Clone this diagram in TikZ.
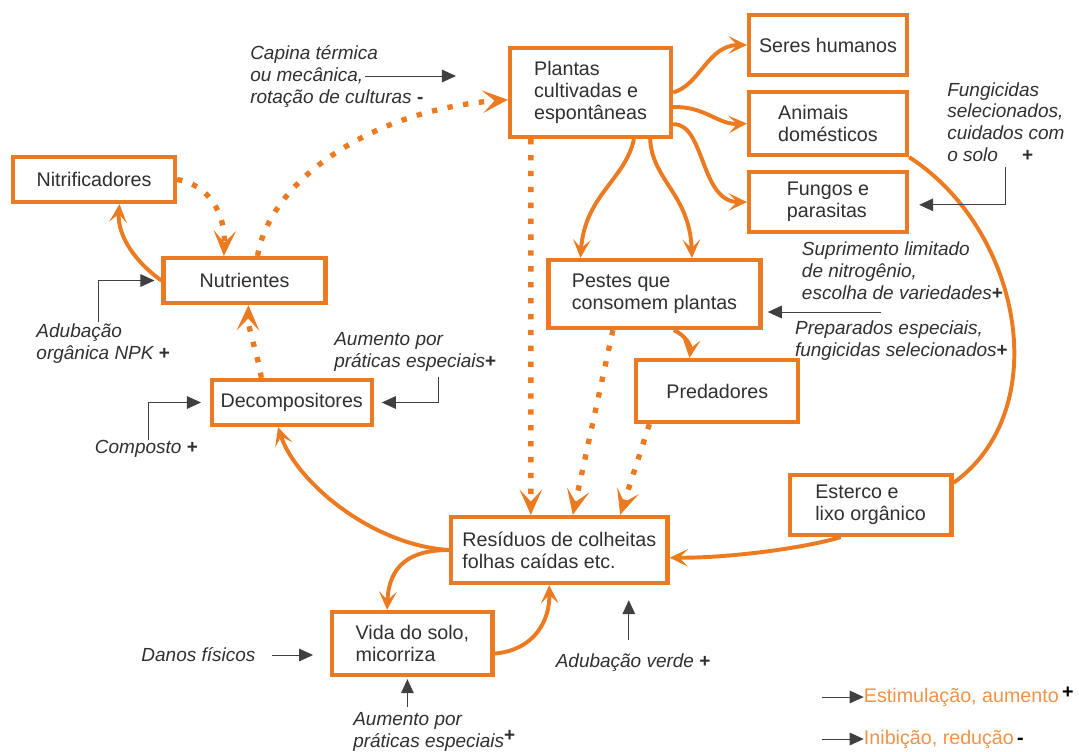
\documentclass[tikz,border=0pt]{standalone}
\usepackage{fontspec}
\setmainfont{Liberation Sans}
\usepackage{xcolor}
\definecolor{laranja}{RGB}{236,122,32}
\definecolor{legenda}{RGB}{241,146,72}
\definecolor{texto}{RGB}{48,48,48}
\usepackage{tikz}
\usetikzlibrary{arrows.meta}
\newcommand\mais{{\upshape\bfseries +}}
\newcommand\menos{{\upshape\bfseries -}}

\begin{document}
\begin{tikzpicture}[x=0.025cm,y=-0.025cm,
  caixa/.style={draw=laranja,line width=3pt,fill=white,align=left,inner sep=0pt,
    text=texto,font=\fontsize{14}{15.6}\selectfont},
  nota/.style={anchor=base west,align=left,inner sep=0pt,text=texto,
    font=\itshape\fontsize{13.5}{15.4}\selectfont},
  fluxo/.style={draw=laranja,line width=2.8pt,-{Stealth[length=13pt,width=12.5pt,inset=6pt]}},
  pontilhado/.style={draw=laranja,line width=3.8pt,dash pattern=on 3.8pt off 7.5pt,
    -{Stealth[length=18pt,width=16pt,inset=8.5pt]}},
  controle/.style={draw=black!75,line width=0.7pt,-{Triangle[length=10pt,width=9pt]}}]
\useasboundingbox (0,0) rectangle (1079,751);

% caixas
\node[caixa,minimum width=4.025cm,minimum height=2.225cm] (plantas) at (590.5,92.5) {Plantas\\cultivadas e\\espontâneas};
\node[caixa,minimum width=3.95cm,minimum height=1.5cm] (seres) at (828,45) {Seres humanos};
\node[caixa,minimum width=3.95cm,minimum height=1.575cm] (animais) at (828,123.5) {Animais\\domésticos};
\node[caixa,minimum width=3.95cm,minimum height=1.5cm] (fungos) at (828,202) {Fungos e\\parasitas};
\node[caixa,minimum width=4.05cm,minimum height=1.125cm] (nitrif) at (94,179.5) {Nitrificadores};
\node[caixa,minimum width=4.045cm,minimum height=1.125cm] (nutrientes) at (244.5,280.5) {Nutrientes};
\node[caixa,minimum width=4cm,minimum height=1.125cm] (decomp) at (291.7,402.5) {Decompositores};
\node[caixa,minimum width=5.295cm,minimum height=1.7cm] (pestes) at (654.5,294) {Pestes que\\consomem plantas};
\node[caixa,minimum width=4.05cm,minimum height=1.55cm] (predadores) at (717.3,391) {Predadores};
\node[caixa,minimum width=4.045cm,minimum height=1.5cm] (esterco) at (870.6,505) {Esterco e\\lixo orgânico};
\node[caixa,minimum width=5.41cm,minimum height=1.65cm] (residuos) at (559.3,550) {Resíduos de colheitas\\folhas caídas etc.};
\node[caixa,minimum width=4cm,minimum height=1.575cm] (vida) at (412.4,643.5) {Vida do solo,\\micorriza};

% fluxos cheios
\draw[fluxo] (plantas.east) .. controls (700,85) and (708,45) .. (seres.west);
\draw[fluxo] (plantas.-10) .. controls (705,106) and (718,125) .. (animais.west);
\draw[fluxo] (plantas.-21) .. controls (705,123) and (700,202) .. (fungos.west);
\draw[fluxo] (plantas.-47.5) .. controls (625,180) and (585,195) .. (pestes.154);
\draw[fluxo] (plantas.-38) .. controls (652,180) and (690,195) .. (pestes.44);
\draw[fluxo] (pestes.-62) .. controls (685,335) and (691,345) .. (predadores.130);
\draw[draw=laranja,line width=2.8pt] (animais.south east) .. controls (1022,230) and (1055,410) .. (esterco.15);
\draw[fluxo] (esterco.-133) .. controls (805,548) and (730,558) .. (residuos.-4);
\draw[fluxo] (residuos.west) .. controls (370,545) and (295,480) .. (decomp.-119);
\draw[fluxo] (residuos.west) .. controls (410,550) and (389,565) .. (vida.127);
\draw[fluxo] (vida.-7) .. controls (535,650) and (550,620) .. (residuos.-106);
\draw[fluxo] (nutrientes.west) .. controls (135,262) and (117,235) .. (nitrif.-44);

% fluxos pontilhados
\draw[pontilhado] (nitrif.east) .. controls (210,185) and (225.5,215) .. (nutrientes.130);
\draw[pontilhado] (nutrientes.62) .. controls (270,180) and (372,110) .. (plantas.185);
\draw[pontilhado] (decomp.141) .. controls (258,355) and (248,330) .. (nutrientes.-81);
\draw[pontilhado] (plantas.-142) -- (residuos.129);
\draw[pontilhado] (pestes.-139) -- (residuos.69);
\draw[pontilhado] (predadores.-154) -- (residuos.30);

% notas
\node[nota] (capina) at (250,103) {Capina térmica\\ou mecânica,\\rotação de culturas \menos};
\node[nota] (fungic) at (947,161) {Fungicidas\\selecionados,\\cuidados com\\o solo\quad\ \mais};
\node[nota] (supr) at (801.7,299) {Suprimento limitado\\de nitrogênio,\\escolha de variedades\mais};
\node[nota] (prep) at (794.8,356) {Preparados especiais,\\fungicidas selecionados\mais};
\node[nota] (npk) at (36.2,359) {Adubação\\orgânica NPK \mais};
\node[nota] (aum1) at (334,367) {Aumento por\\práticas especiais\mais};
\node[nota] (composto) at (94.7,453) {Composto \mais};
\node[nota] (danos) at (141.2,661) {Danos físicos};
\node[nota] (aum2) at (353,747) {Aumento por\\práticas especiais\raisebox{4pt}{\mais}};
\node[nota] (verde) at (555.5,667) {Adubação verde \mais};

\coordinate (capina-a) at (365,76);
\coordinate (capina-b) at (456,76);
\coordinate (fungic-a) at (1005,167);
\coordinate (pestes-a) at (881,312);
\coordinate (npk-a) at (98.1,322);
\coordinate (aum1-a) at (438,377);
\coordinate (comp-a) at (148,440);
\coordinate (danos-a) at (272,655);
\coordinate (aum2-a) at (407.4,707);
\coordinate (verde-a) at (628.8,640);

\draw[controle] (capina-a) -- (capina-b);
\draw[controle,shorten >=0.25cm] (fungic-a) |- (fungos.-2);
\draw[controle,shorten >=0.13cm] (pestes-a) -- (pestes-a -| pestes.east);
\draw[controle,shorten >=0.175cm] (npk-a) |- (nutrientes.west);
\draw[controle,shorten >=0.2cm] (aum1-a) |- (decomp.east);
\draw[controle,shorten >=0.215cm] (comp-a) |- (decomp.west);
\draw[controle,shorten >=0.43cm] (danos-a) -- (danos-a -| vida.west);
\draw[controle,shorten >=0.05cm] (aum2-a) -- (aum2-a |- vida.south);
\draw[controle,shorten >=0.375cm] (verde-a) -- (verde-a |- residuos.south);

% legenda
\node[anchor=west,inner sep=0pt,font=\fontsize{14}{15.6}\selectfont] (estim) at (863.7,697) {\textcolor{legenda}{Estimulação, aumento}\,\raisebox{3pt}{\mais}};
\node[anchor=west,inner sep=0pt,font=\fontsize{14}{15.6}\selectfont] (inib) at (863.7,739) {\textcolor{legenda}{Inibição, redução}\,\menos};
\coordinate (estim-a) at (821.7,697);
\coordinate (inib-a) at (821.7,739);
\draw[controle] (estim-a) -- (estim.west);
\draw[controle] (inib-a) -- (inib.west);
\end{tikzpicture}
\end{document}
